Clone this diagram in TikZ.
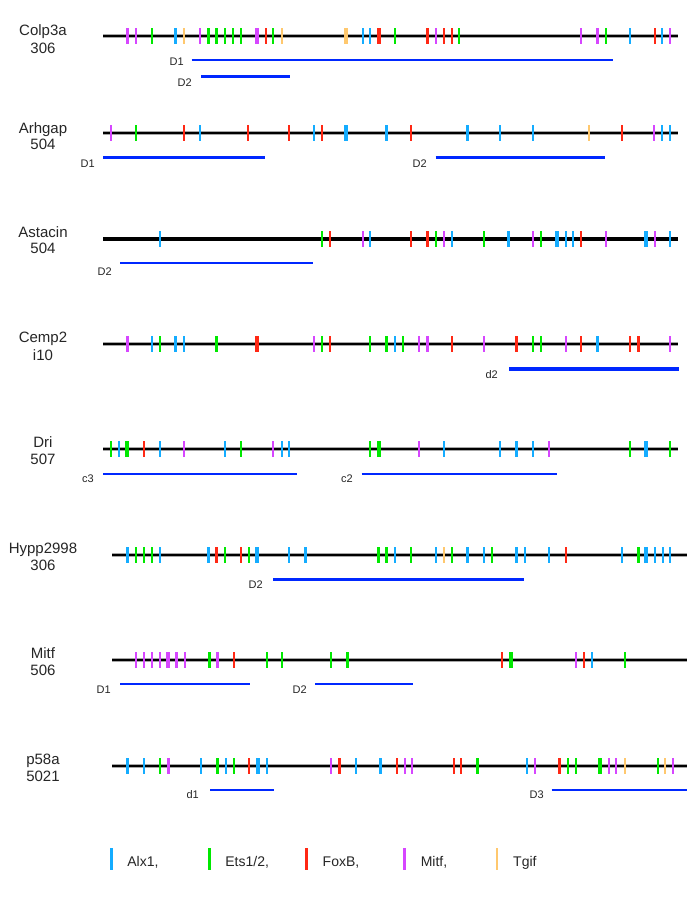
\documentclass[tikz,border=0pt]{standalone}
\usepackage{fontspec}
\setmainfont{Liberation Sans}
\definecolor{cAlx}{RGB}{20,172,255}
\definecolor{cEts}{RGB}{0,232,0}
\definecolor{cFox}{RGB}{255,40,20}
\definecolor{cMit}{RGB}{214,70,255}
\definecolor{cTgf}{RGB}{255,200,110}
\definecolor{cDom}{RGB}{0,40,255}
\tikzset{
  ax/.style={cAlx,line width=2},  Ax/.style={cAlx,line width=3.4},
  et/.style={cEts,line width=2},  Et/.style={cEts,line width=3.4},
  fx/.style={cFox,line width=2},  Fx/.style={cFox,line width=3.4},
  mt/.style={cMit,line width=2},  Mt/.style={cMit,line width=3.4},
  tg/.style={cTgf,line width=2},  Tg/.style={cTgf,line width=3.4},
  halo/.style={black!35,line width=4.4},
  core/.style={black,line width=2.2},
  domthin/.style={cDom,line width=1.9},
  domthick/.style={cDom,line width=3.2},
  lab/.style={font=\fontsize{15}{18}\selectfont,text=black!85,inner sep=0pt,anchor=base},
  dlab/.style={font=\fontsize{11}{13}\selectfont,text=black!85,inner sep=0pt,anchor=base east},
  leg/.style={font=\fontsize{14}{16}\selectfont,text=black!85,inner sep=0pt,anchor=base west},
}
\newcommand\trk[4]{%
  \draw[halo] (#2,#1) -- (#3,#1);
  \draw[core] (#2,#1) -- (#3,#1);
  \foreach \x/\c in {#4} {\draw[\c] (\x,#1-8) -- (\x,#1+8);}
}
\begin{document}
\begin{tikzpicture}[x=1pt,y=-1pt]
\useasboundingbox[fill=white] (0,0) rectangle (696,898);

% ---------- Colp3a
\node[lab] (n1) at (43,35) {Colp3a};
\node[lab] (m1) at (43,53) {306};
\trk{36}{103}{678}{127.7/Mt,136/mt,152/et,175.7/Ax,184/tg,200/mt,208.7/Et,216.7/Et,225/et,233/et,240.7/et,257/Mt,265.7/fx,273.3/et,281.7/tg,346/Tg,362.7/ax,370.3/ax,379/Fx,395.3/et,427.3/Fx,436/mt,444/fx,451.7/fx,459.3/et,581/mt,597.7/Mt,606/et,629.7/ax,654.7/fx,662.3/ax,670.3/mt}
\draw[domthin] (191.7,60) -- (613.3,60);
\node[dlab] (d11) at (184,65) {D1};
\draw[domthick] (201,76.7) -- (290,76.7);
\node[dlab] (d12) at (192,86) {D2};

% ---------- Arhgap
\node[lab] (n2) at (43,133) {Arhgap};
\node[lab] (m2) at (43,149) {504};
\trk{133}{103}{678}{111/mt,136/et,184.3/fx,200/ax,248.3/fx,289/fx,314/ax,322/fx,346/Ax,386.7/Ax,410.7/fx,467.7/Ax,500/ax,532.7/ax,589/tg,621.7/fx,654.3/mt,662.3/ax,670/ax}
\draw[domthick] (103,157.7) -- (264.7,157.7);
\node[dlab] (d21) at (95,167) {D1};
\draw[domthick] (435.7,157.7) -- (605.3,157.7);
\node[dlab] (d22) at (427,167) {D2};

% ---------- Astacin
\node[lab] (n3) at (43,237) {Astacin};
\node[lab] (m3) at (43,253) {504};
\draw[black,line width=3.2] (103,239) -- (678,239);
\foreach \x/\c in {159.7/ax,322/et,329.7/fx,362.7/mt,370.3/ax,410.7/fx,427.3/Fx,436/et,444/mt,451.7/ax,484.3/et,508.7/Ax,532.7/mt,540.7/et,557/Ax,565.7/ax,573.3/ax,581/fx,606/mt,646/Ax,654.7/mt,670.3/ax} {\draw[\c] (\x,231) -- (\x,247);}
\draw[domthin] (120,263.3) -- (313.3,263.3);
\node[dlab] (d31) at (112,275) {D2};

% ---------- Cemp2
\node[lab] (n4) at (43,342) {Cemp2};
\node[lab] (m4) at (43,360) {i10};
\trk{344}{103}{678}{127.7/Mt,151.7/ax,159.7/et,175.7/Ax,184.3/ax,216.7/Et,257/Fx,314/mt,322/et,329.7/fx,370.3/et,386.7/Et,395/ax,403/et,419/mt,427.3/Mt,451.7/fx,484.3/mt,516.7/Fx,532.7/et,540.7/et,565.7/mt,581/fx,597.7/Ax,629.7/fx,638.3/Fx,670.3/mt}
\draw[domthick] (509.3,369) -- (678.7,369);
\node[dlab] (d41) at (498,378) {d2};

% ---------- Dri
\node[lab] (n5) at (43,447) {Dri};
\node[lab] (m5) at (43,464) {507};
\trk{449}{103}{678}{111/et,119/ax,127/Et,143.7/fx,159.7/ax,184.3/mt,225/ax,240.7/et,273.3/mt,281.7/ax,289/ax,370.3/et,379/Et,419/mt,444/ax,500/ax,516.3/Ax,532.7/ax,548.7/mt,629.7/et,646/Ax,670.3/et}
\draw[domthin] (103,474) -- (297.3,474);
\node[dlab] (d51) at (94,482) {c3};
\draw[domthin] (361.7,474) -- (557,474);
\node[dlab] (d52) at (353,482) {c2};

% ---------- Hypp2998
\node[lab] (n6) at (43,553) {Hypp2998};
\node[lab] (m6) at (43,570) {306};
\trk{555}{112}{687}{127.7/Ax,136/et,144/et,152/et,159.7/ax,208.7/Ax,216.7/Fx,225/et,240.7/fx,248.7/et,257/Ax,289/ax,305.7/Ax,378.7/Et,386.7/Et,395.3/ax,411/et,436/ax,444/tg,451.7/et,467.7/Ax,484.3/ax,492.3/et,516.7/Ax,524.7/ax,548.7/ax,565.7/fx,622/ax,638.3/Et,646/Ax,654.7/ax,662.7/ax,670.3/ax}
\draw[domthick] (273.3,579.3) -- (524,579.3);
\node[dlab] (d61) at (263,588) {D2};

% ---------- Mitf
\node[lab] (n7) at (43,658) {Mitf};
\node[lab] (m7) at (43,675) {506};
\trk{660}{112}{687}{136.2/mt,144.2/mt,151.9/mt,159.6/mt,168/Mt,176.5/Mt,185/mt,209.2/Et,217.3/Mt,233.5/fx,266.5/et,281.9/et,331.2/et,347.3/Et,501.9/fx,510.8/Et,576.2/mt,583.8/fx,591.5/ax,624.6/et}
\draw[domthin] (120,684.3) -- (250,684.3);
\node[dlab] (d71) at (111,693) {D1};
\draw[domthin] (315,684.3) -- (413,684.3);
\node[dlab] (d72) at (307,693) {D2};

% ---------- p58a
\node[lab] (n8) at (43,764) {p58a};
\node[lab] (m8) at (43,781) {5021};
\trk{766}{112}{687}{127.3/Ax,144.2/ax,159.6/et,168.5/Mt,200.8/ax,217.3/Et,225.8/ax,233.5/et,249.2/fx,258/Ax,266.5/ax,331.2/mt,339.6/Fx,356.2/ax,380.4/Ax,396.5/fx,404.6/mt,412.3/mt,453.5/fx,461.2/fx,477.7/Et,527.3/ax,535/mt,559.6/Fx,568/et,576.2/et,600/Et,608.5/mt,616.2/mt,624.6/tg,657.7/et,665.4/tg,673/mt}
\draw[domthin] (210,789.7) -- (273.5,789.7);
\node[dlab] (d81) at (199,798) {d1};
\draw[domthin] (551.5,789.7) -- (687,789.7);
\node[dlab] (d82) at (544,798) {D3};

% ---------- legend
\foreach \x/\c/\t/\n in {111.2/cAlx/{Alx1,}/la,209.2/cEts/{Ets1/2,}/lb,306.5/cFox/{FoxB,}/lc,404.6/cMit/{Mitf,}/ld,497/cTgf/{Tgif}/le} {
  \draw[\c,line width=2.6] (\x,848) -- (\x,870);
  \node[leg] (\n) at (\x+16,866) {\t};
}
\end{tikzpicture}
\end{document}
